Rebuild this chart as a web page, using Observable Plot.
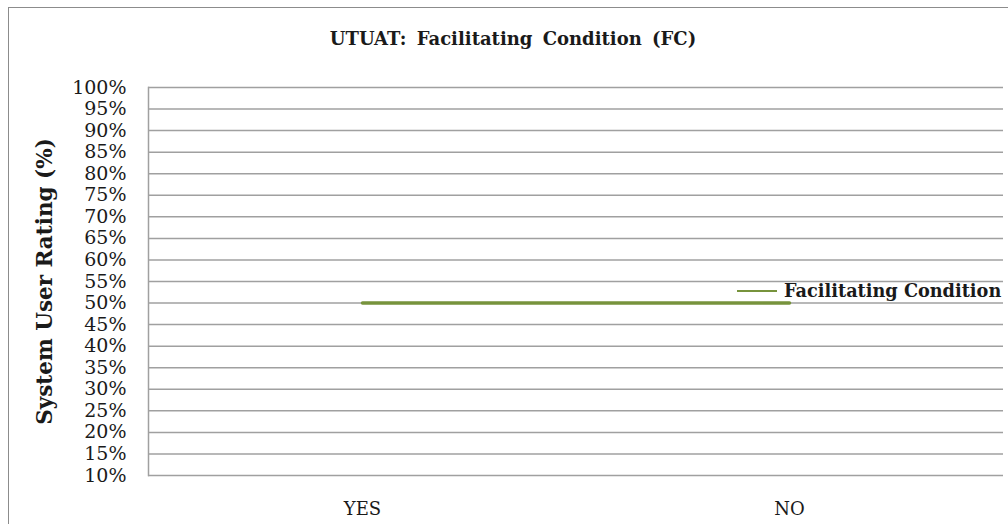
<!DOCTYPE html>
<html>
<head>
<meta charset="utf-8">
<script src="https://cdn.jsdelivr.net/npm/d3@7"></script>
<script src="https://cdn.jsdelivr.net/npm/@observablehq/plot@0.6"></script>
<style>
  html, body { margin: 0; padding: 0; background: #fff; }
  #wrap { position: relative; width: 1008px; height: 524px; overflow: hidden; font-family: "DejaVu Serif", serif; color: #1a1a1a; }
  #border { position: absolute; left: 8px; top: 7px; width: 1010px; height: 540px; border: 1px solid #8c8c8c; box-sizing: border-box; }
  #title { position: absolute; left: 0; width: 1026px; top: 28px; text-align: center; font-weight: bold; font-size: 18px; word-spacing: 4px; }
  #legend { position: absolute; left: 737px; top: 280px; font-weight: bold; font-size: 17.7px; white-space: nowrap; display: flex; align-items: center; }
  #legend .sw { display: inline-block; width: 40px; height: 0; border-top: 2.5px solid #77933C; margin-right: 7px; }
  #chart { position: absolute; left: 0; top: 0; }
</style>
</head>
<body>
<div id="wrap">
  <div id="border"></div>
  <div id="chart"></div>
  <div id="title">UTUAT: Facilitating Condition (FC)</div>
  <div id="legend"><span class="sw"></span><span>Facilitating Condition</span></div>
</div>
<script>
const categories = ["YES", "NO"];
const values = [0.50, 0.50];
const seriesName = "Facilitating Condition";
const yTicks = [0.10,0.15,0.20,0.25,0.30,0.35,0.40,0.45,0.50,0.55,0.60,0.65,0.70,0.75,0.80,0.85,0.90,0.95,1.00];

const data = categories.map((c, i) => ({category: c, value: values[i], series: seriesName}));

const chart = Plot.plot({
  width: 1008,
  height: 524,
  marginLeft: 148,
  marginRight: 5,
  marginTop: 87,
  marginBottom: 49,
  style: {fontFamily: "DejaVu Serif, serif", fontSize: "19px", color: "#1a1a1a", background: "transparent"},
  x: {type: "point", domain: categories, padding: 0.5, label: null},
  y: {domain: [0.10, 1.00], label: null},
  marks: [
    Plot.gridY(yTicks, {stroke: "#a0a0a0", strokeOpacity: 1, strokeWidth: 1.5}),
    Plot.frame({anchor: "left", stroke: "#a0a0a0", strokeWidth: 1.5}),
    Plot.axisY(yTicks, {tickSize: 0, tickPadding: 22, tickFormat: d => Math.round(d*100) + "%", label: null, fontSize: 19}),
    Plot.axisX({tickSize: 0, tickPadding: 27, label: null, fontSize: 18}),
    Plot.text(["System User Rating (%)"], {frameAnchor: "left", textAnchor: "middle", dx: -103, rotate: -90, fontWeight: "bold", fontSize: 21.5}),
    Plot.line(data, {x: "category", y: "value", stroke: "#77933C", strokeWidth: 3.5})
  ]
});
document.getElementById("chart").appendChild(chart);
</script>
</body>
</html>
